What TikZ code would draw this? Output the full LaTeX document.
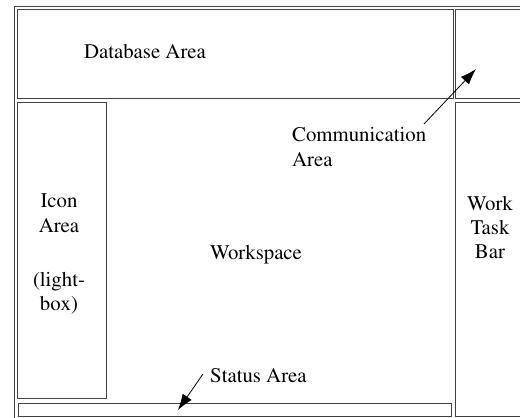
\documentclass[tikz,border=0pt]{standalone}
\usepackage[T1]{fontenc}
\usepackage{times}
\usetikzlibrary{arrows.meta}

\begin{document}
\begin{tikzpicture}[x=1pt,y=-1pt,
	pane/.style={draw=black!75, line width=0.8pt},
	lbl/.style={font=\fontsize{20.8}{24}\selectfont, inner sep=0pt, anchor=base},
	pointer/.style={-{Latex[length=16pt,width=11pt]}, line width=0.8pt}]

\useasboundingbox (0,0) rectangle (520,418);

\begin{scope}
\clip (0,0) rectangle (520,418);

% screen frame
\draw[pane] (14,6) rectangle (530,430);

% panes
\draw[pane] (17,9) rectangle (453,98);
\draw[pane] (455,9) rectangle (530,98);
\draw[pane] (17,102) rectangle (106,398);
\draw[pane] (455,102) rectangle (530,416);
\draw[pane] (18,403) rectangle (451,416);
\end{scope}

% labels
\node[lbl] (db) at (145,58) {Database Area};
\node[lbl, anchor=base west] (comm1) at (292,141) {Communication};
\node[lbl, anchor=base west] (comm2) at (292,166) {Area};
\foreach \txt/\y in {{Icon}/207, {Area}/232, {(light-}/286, {box)}/310}
	\node[lbl] (icon\y) at (59,\y) {\txt};
\node[lbl] (work) at (256,259) {Workspace};
\foreach \txt/\y in {Work/210, Task/234, Bar/258}
	\node[lbl] (task\y) at (490,\y) {\txt};
\node[lbl, anchor=base west] (status) at (210,382) {Status Area};

% pointers
\coordinate (commtail) at (424,124);
\coordinate (commtip) at (476,69);
\coordinate (statustail) at (203,374);
\coordinate (statustip) at (178,410);
\draw[pointer] (commtail) -- (commtip);
\draw[pointer] (statustail) -- (statustip);

\end{tikzpicture}
\end{document}
